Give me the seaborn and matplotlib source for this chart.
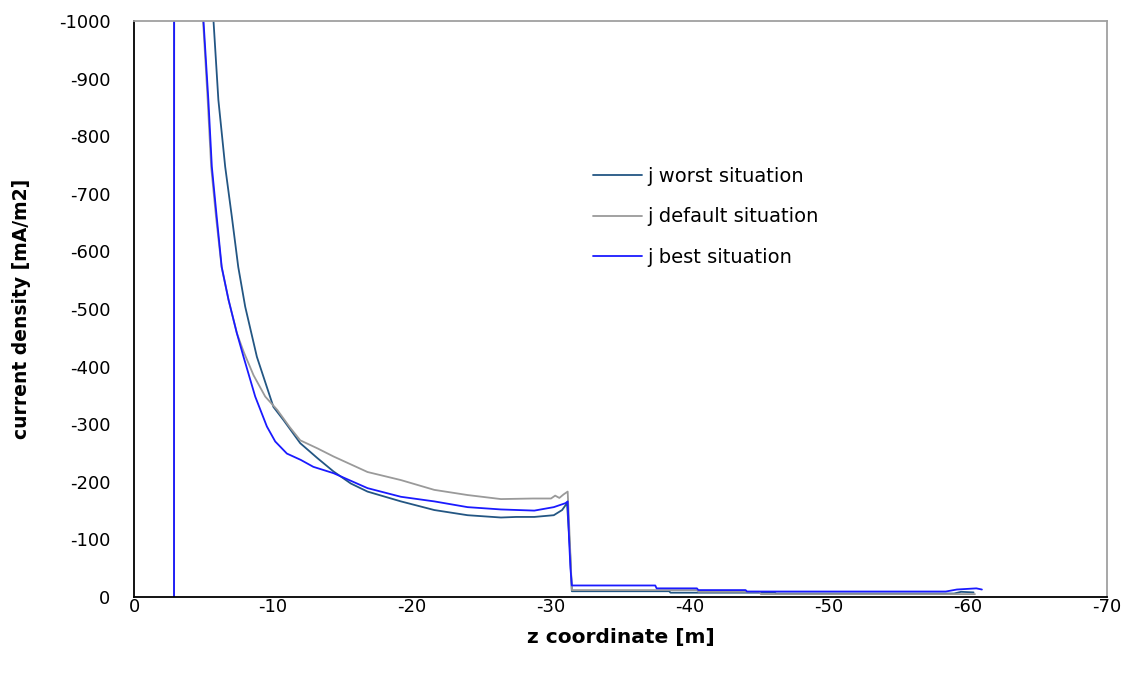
import numpy as np
import pandas as pd
import matplotlib
matplotlib.use("Agg")
import matplotlib.pyplot as plt
import seaborn as sns

# ---- data (z in m, j in mA/m2) ----
worst_z = [-2.88, -2.90, -5.20, -5.72, -6.07, -6.56, -7.04, -7.50, -8.00, -8.84,
           -10.03, -10.76, -11.96, -13.2, -14.35, -15.6, -16.8, -19.2, -21.6,
           -24.0, -26.4, -27.5, -28.8, -30.2, -30.8, -31.15, -31.35, -31.5,
           -38.5, -38.6, -46.1, -46.2, -59.0, -59.5, -60.4]
worst_j = [0, -3000, -1300, -1000, -863, -747, -660, -573, -504, -417,
           -330, -307, -267, -241, -218, -197, -183, -166, -151,
           -142, -138, -139, -139, -142, -151, -163, -90, -10,
           -10, -7.5, -7.5, -6, -6, -9, -8]

default_z = [-2.88, -2.90, -4.50, -4.97, -5.30, -5.55, -5.90, -6.30, -6.80, -7.40,
             -7.90, -8.60, -9.44, -10.3, -11.2, -11.96, -13.2, -14.35, -16.8,
             -19.2, -21.6, -24.0, -26.4, -28.7, -30.0, -30.3, -30.6, -30.9,
             -31.2, -31.35, -31.5, -40.5, -40.6, -45.0, -45.1, -60.5]
default_j = [0, -3000, -1300, -1000, -863, -747, -660, -573, -516, -458,
             -425, -385, -348, -325, -295, -272, -258, -244, -217,
             -203, -186, -177, -170, -171, -171, -176, -172, -178,
             -183, -100, -12, -12, -9, -9, -5, -5]

best_z = [-2.88, -2.90, -4.50, -5.00, -5.35, -5.60, -5.95, -6.31, -6.80, -7.40,
          -7.88, -8.72, -9.56, -10.16, -11.0, -12.0, -12.9, -14.35, -16.8,
          -19.2, -21.6, -24.0, -26.4, -28.8, -30.2, -31.05, -31.2, -31.3,
          -31.4, -31.5, -37.5, -37.6, -40.5, -40.6, -44.0, -44.1, -58.4,
          -59.2, -60.6, -61.0]
best_j = [0, -3000, -1300, -1000, -863, -747, -660, -573, -516, -458,
          -417, -348, -296, -270, -249, -238, -226, -215, -189,
          -174, -166, -156, -152, -150, -156, -163, -166, -100,
          -50, -20, -20, -15, -15, -12, -12, -9.5, -9.5,
          -13, -15, -13]

series_labels = ["j worst situation", "j default situation", "j best situation"]
colors = ["#235683", "#9a9a9a", "#1a1aff"]

df = pd.concat([
    pd.DataFrame({"z": worst_z, "j": worst_j, "series": series_labels[0]}),
    pd.DataFrame({"z": default_z, "j": default_j, "series": series_labels[1]}),
    pd.DataFrame({"z": best_z, "j": best_j, "series": series_labels[2]}),
], ignore_index=True)

x_ticks = np.arange(0, -71, -10)
y_ticks = np.arange(0, -1001, -100)

sns.set_style("white")
plt.rcParams["axes.unicode_minus"] = False
plt.rcParams["font.family"] = ["DejaVu Sans"]
plt.rcParams["text.color"] = "black"
plt.rcParams["axes.labelcolor"] = "black"

fig = plt.figure(figsize=(11.29, 6.83), dpi=100)
ax = fig.add_axes([134 / 1129, 1 - 597 / 683, (1107 - 134) / 1129, (597 - 21) / 683])

sns.lineplot(data=df, x="z", y="j", hue="series", hue_order=series_labels,
             palette=colors, sort=False, estimator=None, linewidth=1.3, ax=ax)

ax.set_xlim(0, -70)
ax.set_ylim(0, -1000)
ax.set_xticks(x_ticks)
ax.set_yticks(y_ticks)
ax.set_xticklabels([f"{t:d}" for t in x_ticks])
ax.set_yticklabels([f"{t:d}" for t in y_ticks])
ax.tick_params(axis="both", direction="in", length=5, width=1, colors="black",
               labelsize=13)
ax.tick_params(axis="y", pad=17)
ax.tick_params(axis="x", pad=1)

for side in ["left", "bottom"]:
    ax.spines[side].set_color("black")
    ax.spines[side].set_linewidth(1.3)
for side in ["top", "right"]:
    ax.spines[side].set_color("#a0a0a0")
    ax.spines[side].set_linewidth(1.3)

ax.set_xlabel("z coordinate [m]", fontsize=14.5, fontweight="bold", labelpad=8)
ax.set_ylabel("current density [mA/m2]", fontsize=13.5, fontweight="bold", labelpad=20)

handles, labels = ax.get_legend_handles_labels()
leg = ax.legend(handles, labels, loc="upper left",
                bbox_to_anchor=(593 / 1129, 1 - 167 / 683), bbox_transform=fig.transFigure,
                frameon=False, fontsize=14, borderpad=0, borderaxespad=0,
                handlelength=2.5, handletextpad=0.3, labelspacing=1.1)
for t in leg.get_texts():
    t.set_color("black")

fig.savefig("out.png", dpi=100)
